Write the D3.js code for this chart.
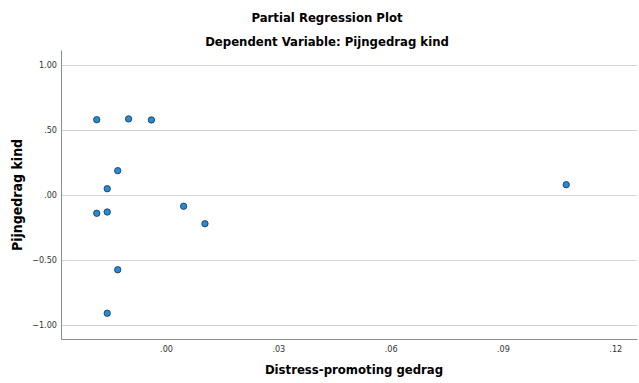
<!DOCTYPE html>
<html>
<head>
<meta charset="utf-8">
<script src="https://cdn.jsdelivr.net/npm/d3@7"></script>
<style>
  body { margin: 0; background: #fff; }
  text { font-family: "DejaVu Sans Condensed", "Liberation Sans Narrow", "DejaVu Sans", sans-serif; }
</style>
</head>
<body>
<div id="chart"></div>
<script>
  // residuals
  const xValues = [-0.0185, -0.0100, -0.0039, -0.0129, -0.0157, -0.0185, -0.0157, 0.0047, 0.0104, -0.0129, -0.0157, 0.1069]
  const yValues = [0.579, 0.585, 0.577, 0.187, 0.048, -0.141, -0.131, -0.087, -0.221, -0.575, -0.910, 0.079]
  const xTicks = [0, 0.03, 0.06, 0.09, 0.12]
  const yTicks = [1, 0.5, 0, -0.5, -1]
  const titles = ["Partial Regression Plot", "Dependent Variable: Pijngedrag kind"]
  const xTitle = "Distress-promoting gedrag"
  const yTitle = "Pijngedrag kind"

  var width = 639, height = 383
  var margin = { left: 61, right: 2, top: 50, bottom: 44 }
  var innerWidth = width - margin.left - margin.right
  var innerHeight = height - margin.top - margin.bottom

  var points = xValues.map((x, i) => ({ x: x, y: yValues[i] }))

  var svg = d3.select("#chart").append("svg")
    .attr("width", width)
    .attr("height", height)

  var xScale = d3.scaleLinear()
    .domain([-0.02805, 0.1258])
    .range([0, innerWidth])

  var yScale = d3.scaleLinear()
    .domain([-1.108, 1.115])
    .range([innerHeight, 0])

  var fmt = v => {
    var s = d3.format(".2f")(v)
    return s.replace(/^(-?)0\./, "$1.")
  }

  svg.selectAll(".title")
    .data(titles)
    .enter().append("text")
    .attr("class", "title")
    .attr("x", 327)
    .attr("y", (d, i) => 22 + i * 24)
    .attr("text-anchor", "middle")
    .style("font-size", "13px")
    .style("font-weight", "bold")
    .text(d => d)

  var g = svg.append("g")
    .attr("transform", "translate(" + margin.left + "," + margin.top + ")")

  // horizontal grid
  g.append("g")
    .selectAll("line")
    .data(yTicks)
    .enter().append("line")
    .attr("x1", 0)
    .attr("x2", innerWidth)
    .attr("y1", d => Math.round(yScale(d)) + 0.5)
    .attr("y2", d => Math.round(yScale(d)) + 0.5)
    .attr("stroke", "#d4d4d4")
    .attr("stroke-width", 1)

  var yAxis = d3.axisLeft(yScale)
    .tickValues(yTicks)
    .tickFormat(fmt)
    .tickSize(0)
    .tickPadding(4)

  var xAxis = d3.axisBottom(xScale)
    .tickValues(xTicks)
    .tickFormat(fmt)
    .tickSize(0)
    .tickPadding(7)

  var yAxisG = g.append("g").call(yAxis)
  var xAxisG = g.append("g")
    .attr("transform", "translate(0," + innerHeight + ")")
    .call(xAxis)

  ;[xAxisG, yAxisG].forEach(a => {
    a.select(".domain").attr("stroke", "#8c8c8c")
    a.selectAll("text")
      .style("font-size", "9px")
      .style("font-family", "'DejaVu Sans Condensed', 'DejaVu Sans', sans-serif")
      .attr("fill", "#333")
  })

  g.selectAll("circle")
    .data(points)
    .enter().append("circle")
    .attr("cx", d => xScale(d.x))
    .attr("cy", d => yScale(d.y))
    .attr("r", 3.2)
    .attr("fill", "#1f8ddb")
    .attr("stroke", "#24303c")
    .attr("stroke-width", 0.8)

  svg.append("text")
    .attr("x", margin.left + innerWidth / 2 + 5)
    .attr("y", 374)
    .attr("text-anchor", "middle")
    .style("font-size", "13px")
    .style("font-weight", "bold")
    .text(xTitle)

  svg.append("text")
    .attr("transform", "translate(22," + (margin.top + yScale(0)) + ") rotate(-90)")
    .attr("text-anchor", "middle")
    .style("font-size", "14px")
    .style("font-weight", "bold")
    .text(yTitle)
</script>
</body>
</html>
